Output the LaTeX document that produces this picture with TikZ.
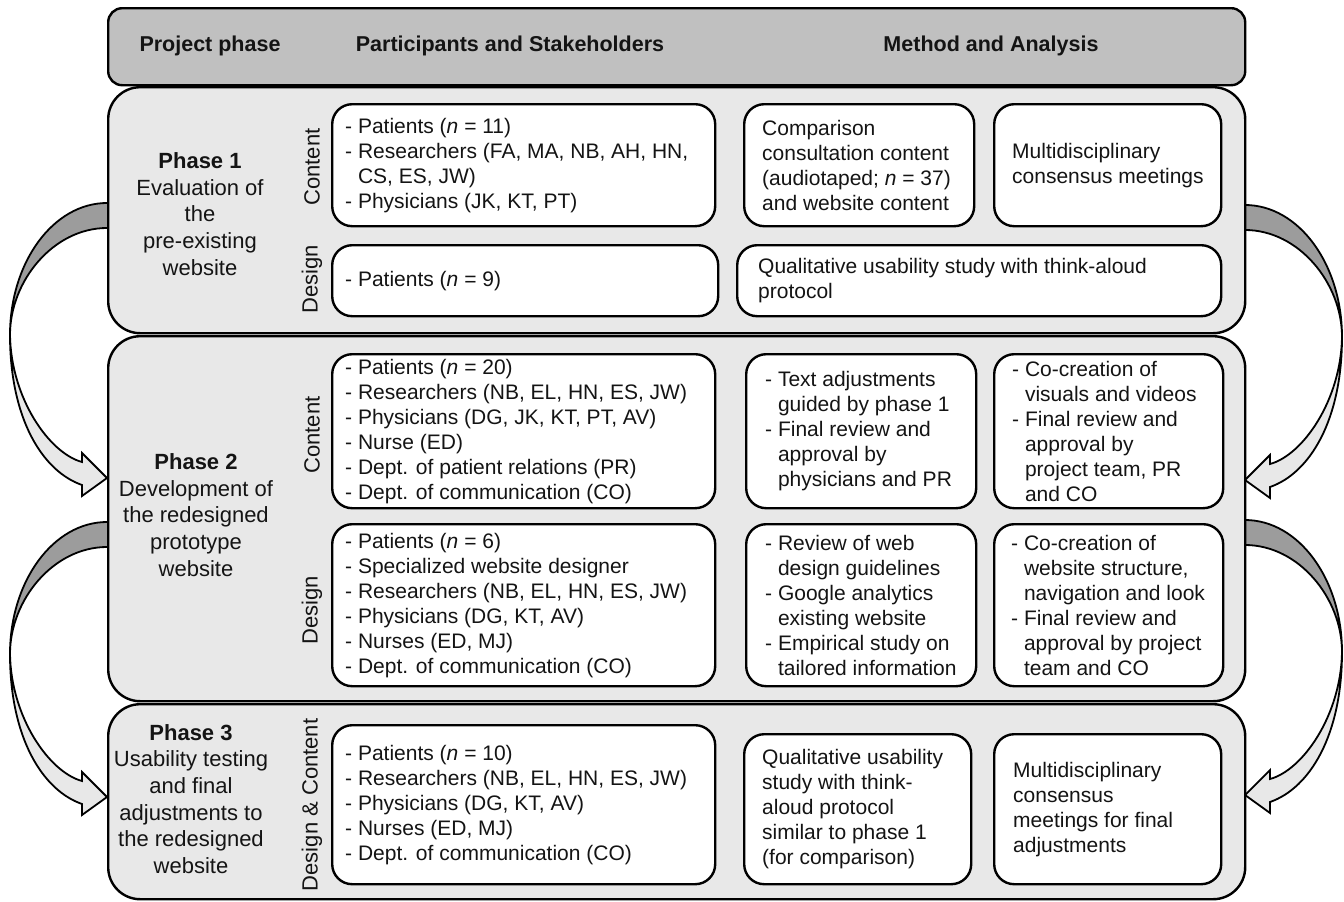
\documentclass[tikz,border=0pt]{standalone}
\usepackage{fontspec}
\setmainfont{Liberation Sans}
\usetikzlibrary{calc}
\definecolor{hdrfill}{HTML}{C0C0C0}
\definecolor{phsfill}{HTML}{E8E8E8}
\definecolor{darkband}{HTML}{9C9C9C}
\definecolor{txtcol}{HTML}{141414}
\newcommand\myind{\hphantom{-\ }}
\newcommand\myarrowshape{%
  \filldraw[fill=darkband, draw=black, line width=1.8pt, line join=round]
    (12,0) -- (0,0) .. controls (-53.6,0) and (-97,59.1) .. (-97,132)
    .. controls (-97,78) and (-53.6,25) .. (0,25) -- (12,25) -- cycle;
  \filldraw[fill=phsfill, draw=black, line width=1.8pt, line join=miter]
    (-97,132) .. controls (-97,215) and (-65,268) .. (-25,282)
    -- (-25,293) -- (0,275) -- (-25,250) -- (-25,259)
    .. controls (-58,250) and (-96,195) .. (-97,132) -- cycle;
}
\begin{document}
\begin{tikzpicture}[x=1pt,y=-1pt,
  font=\fontsize{21}{25}\selectfont,
  phasebox/.style={draw=black, line width=2.4pt, fill=phsfill, rounded corners=32pt,
    inner sep=0pt, anchor=north west},
  hdrbox/.style={draw=black, line width=2.4pt, fill=hdrfill, rounded corners=14pt,
    inner sep=0pt, anchor=north west},
  wbox/.style={draw=black, line width=2.4pt, fill=white, rounded corners=20pt,
    inner sep=0pt, anchor=north west},
  body/.style={align=left, anchor=west, inner sep=0pt, text=txtcol},
  side/.style={rotate=90, inner sep=0pt, font=\fontsize{22}{26}\selectfont, text=txtcol},
  phaselbl/.style={align=center, inner sep=0pt, font=\fontsize{22}{26.7}\selectfont, text=txtcol},
  head/.style={font=\fontsize{21.5}{26}\selectfont\bfseries, text=txtcol, inner sep=0pt}
]
\useasboundingbox (0,0) rectangle (1344,902);

% curved arrows (drawn first, boxes cover their ends)
\coordinate (arrL1) at (107,203);
\coordinate (arrL2) at (107,522);
\coordinate (arrR1) at (1245,205);
\coordinate (arrR2) at (1245,520);
\begin{scope}[shift={(arrL1)}]\myarrowshape\end{scope}
\begin{scope}[shift={(arrL2)}]\myarrowshape\end{scope}
\begin{scope}[shift={(arrR1)}, xscale=-1]\myarrowshape\end{scope}
\begin{scope}[shift={(arrR2)}, xscale=-1]\myarrowshape\end{scope}

% header and phase boxes
\node[hdrbox, minimum width=1137pt, minimum height=77pt] (hdr) at (107,7) {};
\node[phasebox, minimum width=1137pt, minimum height=246pt] (p1) at (107,86) {};
\node[phasebox, minimum width=1137pt, minimum height=365pt] (p2) at (107,335) {};
\node[phasebox, minimum width=1137pt, minimum height=195pt] (p3) at (107,703) {};

\node[head] (h1) at (210,46) {Project phase};
\node[head] (h2) at (510,46) {Participants and Stakeholders};
\node[head] (h3) at (991,46) {Method and Analysis};

% phase labels
\node[phaselbl] (l1) at (200,214) {\textbf{Phase 1}\\Evaluation of\\the\\pre-existing\\website};
\node[phaselbl] (l2) at (196,515) {\textbf{Phase 2}\\Development of\\the redesigned\\prototype\\website};
\node[phaselbl] (l3) at (191,799) {\textbf{Phase 3}\\Usability testing\\and final\\adjustments to\\the redesigned\\website};

\node[side] (s1) at (312,167) {Content};
\node[side] (s2) at (312,279) {Design};
\node[side] (s3) at (312,435) {Content};
\node[side] (s4) at (312,610) {Design};
\node[side] (s5) at (312,805) {Design \& Content};

% inner boxes
\node[wbox, minimum width=383pt, minimum height=122pt] (a1) at (331,103) {};
\node[wbox, minimum width=230pt, minimum height=122pt] (b1) at (743,103) {};
\node[wbox, minimum width=227pt, minimum height=122pt] (c1) at (993,103) {};
\node[wbox, minimum width=386pt, minimum height=71pt] (a2) at (331,244) {};
\node[wbox, minimum width=484pt, minimum height=71pt] (b2) at (736,244) {};
\node[wbox, minimum width=383pt, minimum height=154pt] (a3) at (331,353) {};
\node[wbox, minimum width=230pt, minimum height=154pt] (b3) at (745,353) {};
\node[wbox, minimum width=229pt, minimum height=154pt] (c3) at (993,353) {};
\node[wbox, minimum width=383pt, minimum height=162pt] (a4) at (331,523) {};
\node[wbox, minimum width=230pt, minimum height=162pt] (b4) at (745,523) {};
\node[wbox, minimum width=229pt, minimum height=162pt] (c4) at (993,523) {};
\node[wbox, minimum width=383pt, minimum height=159pt] (a5) at (331,724) {};
\node[wbox, minimum width=227pt, minimum height=150pt] (b5) at (743,733) {};
\node[wbox, minimum width=227pt, minimum height=150pt] (c5) at (993,733) {};

% texts
\node[body] (ta1) at ([xshift=14pt]a1.west) {- Patients (\textit{n} = 11)\\- Researchers (FA, MA, NB, AH, HN,\\\myind CS, ES, JW)\\- Physicians (JK, KT, PT)};
\node[body] (tb1) at ([xshift=19pt]b1.west) {Comparison\\consultation content\\(audiotaped; \textit{n} = 37)\\and website content};
\node[body] (tc1) at ([xshift=19pt]c1.west) {Multidisciplinary\\consensus meetings};
\node[body] (ta2) at ([xshift=14pt]a2.west) {- Patients (\textit{n} = 9)};
\node[body] (tb2) at ([xshift=22pt]b2.west) {Qualitative usability study with think-aloud\\protocol};
\node[body] (ta3) at ([xshift=14pt]a3.west) {- Patients (\textit{n} = 20)\\- Researchers (NB, EL, HN, ES, JW)\\- Physicians (DG, JK, KT, PT, AV)\\- Nurse (ED)\\- Dept. of patient relations (PR)\\- Dept. of communication (CO)};
\node[body] (tb3) at ([xshift=20pt]b3.west) {- Text adjustments\\\myind guided by phase 1\\- Final review and\\\myind approval by\\\myind physicians and PR};
\node[body] (tc3) at ([xshift=19pt]c3.west) {- Co-creation of\\\myind visuals and videos\\- Final review and\\\myind approval by\\\myind project team, PR\\\myind and CO};
\node[body] (ta4) at ([xshift=14pt]a4.west) {- Patients (\textit{n} = 6)\\- Specialized website designer\\- Researchers (NB, EL, HN, ES, JW)\\- Physicians (DG, KT, AV)\\- Nurses (ED, MJ)\\- Dept. of communication (CO)};
\node[body] (tb4) at ([xshift=20pt]b4.west) {- Review of web\\\myind design guidelines\\- Google analytics\\\myind existing website\\- Empirical study on\\\myind tailored information};
\node[body] (tc4) at ([xshift=18pt]c4.west) {- Co-creation of\\\myind website structure,\\\myind navigation and look\\- Final review and\\\myind approval by project\\\myind team and CO};
\node[body] (ta5) at ([xshift=14pt]a5.west) {- Patients (\textit{n} = 10)\\- Researchers (NB, EL, HN, ES, JW)\\- Physicians (DG, KT, AV)\\- Nurses (ED, MJ)\\- Dept. of communication (CO)};
\node[body] (tb5) at ([xshift=19pt]b5.west) {Qualitative usability\\study with think-\\aloud protocol\\similar to phase 1\\(for comparison)};
\node[body] (tc5) at ([xshift=20pt]c5.west) {Multidisciplinary\\consensus\\meetings for final\\adjustments};
\end{tikzpicture}
\end{document}
